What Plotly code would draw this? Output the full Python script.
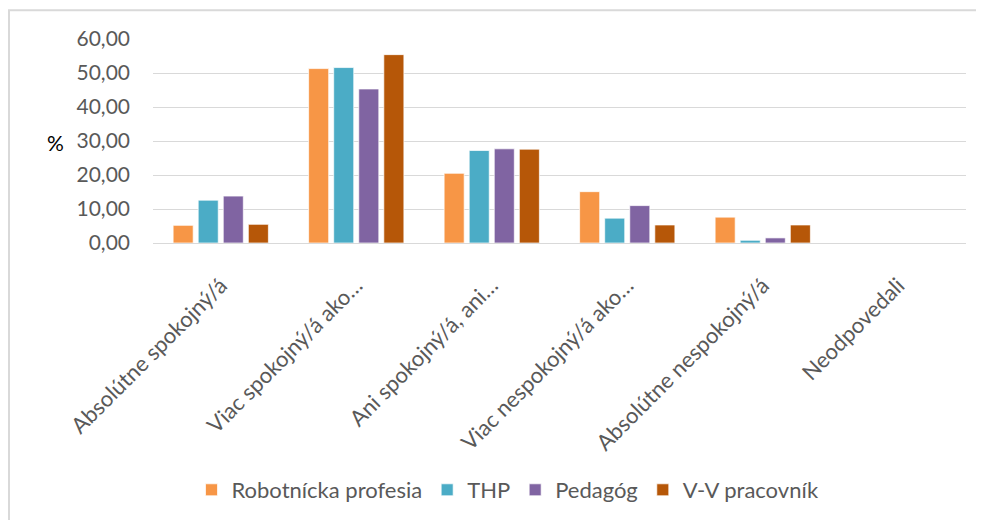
import plotly.graph_objects as go

categories = ["Absolútne spokojný/á", "Viac spokojný/á ako…", "Ani spokojný/á, ani…",
              "Viac nespokojný/á ako…", "Absolútne nespokojný/á", "Neodpovedali"]
robotnicka = [5.2, 51.3, 20.5, 15.1, 7.6, 0.0]
thp = [12.6, 51.6, 27.2, 7.3, 0.8, 0.0]
pedagog = [13.8, 45.3, 27.7, 11.0, 1.5, 0.0]
vv = [5.5, 55.4, 27.6, 5.3, 5.3, 0.0]
series_names = ["Robotnícka profesia", "THP", "Pedagóg", "V-V pracovník"]
colors = ["#F79646", "#4BACC6", "#8064A2", "#B65708"]
y_ticks = [0, 10, 20, 30, 40, 50, 60]

FONT = "Lato"
fig = go.Figure()
for name, vals, c in zip(series_names, [robotnicka, thp, pedagog, vv], colors):
    fig.add_trace(go.Bar(x=categories, y=vals, name=name, marker_color=c,
                         marker_line=dict(color="rgba(255,255,255,0.7)", width=1)))

# page has an 8px body margin; figure placed at (8, 8)
OFF = 8
W, H = 984 - OFF, 520 - OFF
L, R, T, B = 153 - OFF, 18, 39 - OFF, 276
pw, ph = W - L - R, H - T - B

fig.update_layout(
    width=W, height=H,
    margin=dict(l=L, r=R, t=T, b=B, pad=0),
    paper_bgcolor="white", plot_bgcolor="white",
    barmode="group", bargap=0.26, bargroupgap=0.2,
    separators=", ",
    font=dict(family=FONT, color="#595959"),
    legend=dict(orientation="h", x=(508 - OFF - L) / pw, xanchor="center",
                y=-(490 - OFF - (T + ph)) / ph, yanchor="middle",
                font=dict(size=22, color="#595959"), itemwidth=30,
                traceorder="normal"),
    shapes=[dict(type="rect", xref="paper", yref="paper",
                 x0=(1 - L) / pw, x1=2, y0=-3, y1=(T + ph - 2) / ph,
                 line=dict(color="#D9D9D9", width=2), fillcolor="rgba(0,0,0,0)",
                 layer="below")],
    annotations=[dict(text="%", xref="paper", yref="paper",
                      x=(55 - OFF - L) / pw, y=(T + ph - (143 - OFF)) / ph,
                      xanchor="center", yanchor="middle", showarrow=False,
                      font=dict(size=21, color="#000000", family=FONT))],
)
fig.update_xaxes(tickangle=-45, tickfont=dict(size=22, color="#595959"),
                 showline=True, linecolor="#D9D9D9", linewidth=1,
                 ticklabelstandoff=20)
fig.update_yaxes(range=[0, 60], tickvals=y_ticks, tickformat=".2f",
                 tickfont=dict(size=21, color="#595959"),
                 showgrid=True, gridcolor="#D9D9D9", gridwidth=1,
                 zeroline=True, zerolinecolor="#D9D9D9", zerolinewidth=1,
                 ticklabelstandoff=22)

fig.write_html("out.html")
